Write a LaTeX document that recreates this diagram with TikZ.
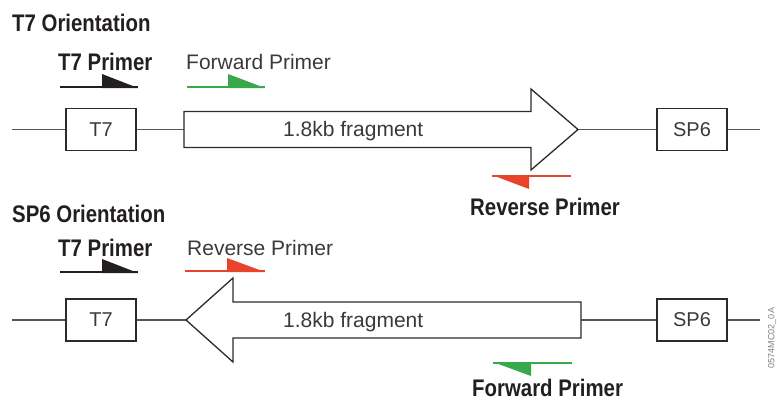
\documentclass[tikz,border=0pt]{standalone}
\usepackage{fontspec}
\setmainfont{Liberation Sans}
\newfontfamily\condbf{Liberation Sans}[FakeStretch=0.85]
\definecolor{textdark}{HTML}{231F20}
\definecolor{textgray}{HTML}{3A3A3A}
\definecolor{linegray}{HTML}{555555}
\definecolor{boxgray}{HTML}{2B2B2B}
\definecolor{primred}{HTML}{E8432C}
\definecolor{primgreen}{HTML}{37A94A}
\definecolor{primblack}{HTML}{231F20}
\begin{document}
\begin{tikzpicture}[x=1pt,y=-1pt,
  mainline/.style={draw=linegray,line width=1.8pt},
  boxn/.style={draw=boxgray,line width=1.3pt,minimum width=70pt,minimum height=42pt,inner sep=0pt,font=\fontsize{20}{20}\selectfont,text=textgray},
  bigarrow/.style={draw=boxgray,line width=1.3pt,fill=white,line join=miter},
  lbl/.style={anchor=base west,inner sep=0pt,font=\fontsize{21}{21}\selectfont,text=textgray},
  blbl/.style={anchor=base west,inner sep=0pt,font=\condbf\bfseries\fontsize{24}{24}\selectfont,text=textdark},
  primline/.style={line width=1.8pt},
]
\useasboundingbox (0,0) rectangle (777,402);

% ---------- T7 orientation ----------
\node[blbl] (title1) at (12,31) {T7 Orientation};
\node[blbl] (t7p1) at (58,70) {T7 Primer};
\node[lbl] (fwd1) at (186,69) {Forward Primer};

% black primer (row 1)
\coordinate (bp1s) at (60,87);
\coordinate (bp1t) at (138,87);
\draw[primline,primblack] (bp1s) -- (bp1t);
\fill[primblack] (102,88) -- (102,74) -- (138,88) -- cycle;

% green primer (row 1)
\coordinate (gp1s) at (187,87);
\coordinate (gp1t) at (265,87);
\draw[primline,primgreen] (gp1s) -- (gp1t);
\fill[primgreen] (228,88) -- (228,74) -- (265,88) -- cycle;

% main line row 1
\coordinate (s1) at (12,129.5);
\node[boxn] (t7a) at (101,129.5) {T7};
\coordinate (tail1) at (184,129.5);
\coordinate (tip1) at (578,129.5);
\node[boxn] (sp6a) at (692,129.5) {SP6};
\coordinate (e1) at (760,129.5);
\draw[mainline] (s1) -- (t7a) (t7a) -- (tail1) (tip1) -- (sp6a) (sp6a) -- (e1);
\draw[bigarrow] (184,111.5) -- (531,111.5) -- (531,89) -- (tip1) -- (531,170) -- (531,147.5) -- (184,147.5) -- cycle;
\node[lbl] (frag1) at (283,136) {1.8kb fragment};

% red primer (row 1)
\coordinate (rp1s) at (571,176);
\coordinate (rp1t) at (492,176);
\draw[primline,primred] (rp1s) -- (rp1t);
\fill[primred] (492,175) -- (529,175) -- (529,189) -- cycle;
\node[blbl] (rev1) at (470,215) {Reverse Primer};

% ---------- SP6 orientation ----------
\node[blbl] (title2) at (12,222) {SP6 Orientation};
\node[blbl] (t7p2) at (58,256) {T7 Primer};
\node[lbl] (rev2) at (187,255) {Reverse Primer};

% black primer (row 2)
\coordinate (bp2s) at (60,272);
\coordinate (bp2t) at (138,272);
\draw[primline,primblack] (bp2s) -- (bp2t);
\fill[primblack] (102,273) -- (102,259) -- (138,273) -- cycle;

% red primer (row 2)
\coordinate (rp2s) at (185,271);
\coordinate (rp2t) at (265,271);
\draw[primline,primred] (rp2s) -- (rp2t);
\fill[primred] (227,272) -- (227,258) -- (265,272) -- cycle;

% main line row 2
\coordinate (s2) at (12,320);
\node[boxn] (t7b) at (101,320) {T7};
\coordinate (tip2) at (186,320);
\coordinate (tail2) at (581,320);
\node[boxn] (sp6b) at (692,320) {SP6};
\coordinate (e2) at (760,320);
\draw[mainline] (s2) -- (t7b) (t7b) -- (tip2) (tail2) -- (sp6b) (sp6b) -- (e2);
\draw[bigarrow] (581,302) -- (233,302) -- (233,278) -- (tip2) -- (233,362) -- (233,338) -- (581,338) -- cycle;
\node[lbl] (frag2) at (283,327) {1.8kb fragment};

% green primer (row 2)
\coordinate (gp2s) at (572,363);
\coordinate (gp2t) at (493,363);
\draw[primline,primgreen] (gp2s) -- (gp2t);
\fill[primgreen] (493,362) -- (531,362) -- (531,376) -- cycle;
\node[blbl] (fwd2) at (472,396) {Forward Primer};

% figure code
\node[rotate=90,inner sep=0pt,font=\fontsize{9}{9}\selectfont,text=gray] (code) at (772,338) {0574MC02\_0A};
\end{tikzpicture}
\end{document}
